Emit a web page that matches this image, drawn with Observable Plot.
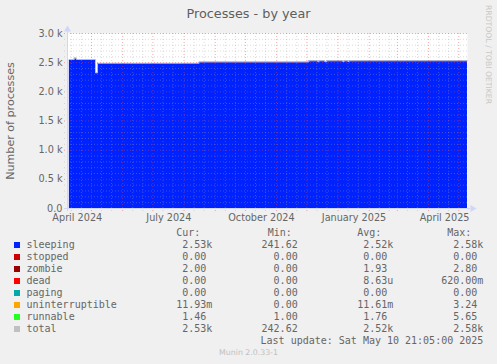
<!DOCTYPE html>
<html><head><meta charset="utf-8">
<script src="https://cdn.jsdelivr.net/npm/d3@7"></script>
<script src="https://cdn.jsdelivr.net/npm/@observablehq/plot@0.6"></script>
<style>
html,body{margin:0;padding:0;background:#f0f0f0;}
#wrap{position:relative;width:497px;height:364px;overflow:hidden;background:#f0f0f0;font-family:"DejaVu Sans",sans-serif;color:#666;}
#chart{position:absolute;left:0;top:0;}
#title{position:absolute;left:0;top:6.4px;width:497px;text-align:center;font-size:12.8px;line-height:15px;color:#5e5e5e;white-space:nowrap;}
#ylab{position:absolute;left:-89px;top:115px;width:200px;height:12px;text-align:center;font-size:11.1px;line-height:12px;transform:rotate(-90deg);white-space:nowrap;}
#wm{position:absolute;left:484px;top:5px;writing-mode:vertical-rl;font-size:7.7px;line-height:8px;color:#c8c8c8;white-space:nowrap;}
#legend{position:absolute;left:0;top:0;width:497px;height:364px;font-family:"DejaVu Sans Mono",monospace;font-size:10px;line-height:12px;color:#666;}
#legend div{position:absolute;white-space:pre;height:12px;}
#legend .sq{width:6px;height:6px;}
#munin{position:absolute;left:0;width:497px;top:347.5px;text-align:center;font-size:7.8px;line-height:10px;color:#c0c0c0;}
</style></head><body>
<div id="wrap">
  <div id="chart"></div>
  <div id="title"></div>
  <div id="ylab"></div>
  <div id="wm"></div>
  <div id="legend"></div>
  <div id="munin"></div>
</div>
<script>
// ---- data ----
const titleText = "Processes - by year";
const yLabelText = "Number of processes";
const watermark = "RRDTOOL / TOBI OETIKER";
const footer = "Munin 2.0.33-1";
const lastUpdate = "Last update:  Sat May 10 21:05:00 2025";

const dates = ["2024-04-09","2024-04-14","2024-04-16","2024-05-05","2024-05-07","2024-08-16","2024-12-03","2024-12-12","2024-12-13","2024-12-19","2024-12-21","2025-01-06","2025-01-07","2025-01-11","2025-01-12","2025-05-09T16:00Z"];
const sleeping = [2550,2575,2550,2320,2485,2507,2527,2510,2527,2512,2527,2512,2527,2515,2527,2527];
const total    = [2555,2580,2555,2325,2490,2512,2532,2515,2532,2517,2532,2517,2532,2520,2532,2532];

const xDomainDates = ["2024-04-07T04:00Z","2025-05-09T16:00Z"];
const yDomain = [0, 3000];
const yTicks = [0,500,1000,1500,2000,2500,3000];
const yTickLabels = ["0.0","0.5 k","1.0 k","1.5 k","2.0 k","2.5 k","3.0 k"];
const xTickDates = ["2024-04-01","2024-07-01","2024-10-01","2025-01-01","2025-04-01"];
const xTickLabels = ["April 2024","July 2024","October 2024","January 2025","April 2025"];

const seriesNames = ["sleeping","stopped","zombie","dead","paging","uninterruptible","runnable","total"];
const seriesColors = ["#0022ff","#cc0000","#990000","#ff0000","#00aaaa","#ffa500","#22ff22","#c0c0c0"];
const curVals = ["2.53k","0.00","2.00","0.00","0.00","11.93m","1.46","2.53k"];
const minVals = ["241.62","0.00","0.00","0.00","0.00","0.00","1.00","242.62"];
const avgVals = ["2.52k","0.00","1.93","8.63u","0.00","11.61m","1.76","2.52k"];
const maxVals = ["2.58k","0.00","2.80","620.00m","0.00","3.24","5.65","2.58k"];
const colHeaders = ["Cur:","Min:","Avg:","Max:"];

// ---- build ----
const rows = dates.map((d, i) => ({date: new Date(d.length > 10 ? d : d + "T00:00Z"), sleeping: sleeping[i], total: total[i]}));
const xDomain = xDomainDates.map(d => new Date(d));
const yLabelMap = new Map(yTicks.map((t, i) => [t, yTickLabels[i]]));
const xTicks = xTickDates.map(d => new Date(d + "T00:00Z"));
const xLabelMap = new Map(xTicks.map((t, i) => [+t, xTickLabels[i]]));

const yMinor = d3.range(100, 3001, 100).filter(v => v % 500 !== 0);
const yMajor = yTicks.filter(v => v > 0);
const xMajor = d3.utcMonth.range(xDomain[0], xDomain[1]);
const xMinor = d3.utcDay.range(xDomain[0], xDomain[1]).filter(d => d.getUTCDate() === 11 || d.getUTCDate() === 21);

const gridMinor = {stroke: "#a0a0a0", strokeOpacity: 0.38, strokeDasharray: "1,2"};
const gridMajor = {stroke: "#f04040", strokeOpacity: 0.45, strokeDasharray: "1,2"};
const axisColor = "#cfd6f8";

const chart = Plot.plot({
  width: 497, height: 230,
  marginLeft: 67, marginRight: 30, marginTop: 33, marginBottom: 22,
  style: {background: "transparent", fontFamily: "DejaVu Sans", fontSize: "9.7px", color: "#666", overflow: "visible"},
  x: {type: "utc", domain: xDomain},
  y: {domain: yDomain},
  marks: [
    Plot.frame({fill: "#ffffff", stroke: "none"}),
    Plot.areaY(rows, {x: "date", y: "sleeping", curve: "step-after", fill: "#0022ff"}),
    Plot.lineY(rows, {x: "date", y: "total", curve: "step-after", stroke: "#c0c0c0", strokeWidth: 1}),
    Plot.ruleY(yMinor, {...gridMinor, insetLeft: -3, insetRight: -2}),
    Plot.ruleX(xMinor, {...gridMinor, insetBottom: -3}),
    Plot.ruleY(yMajor, {...gridMajor, insetLeft: -3, insetRight: -2}),
    Plot.ruleX(xMajor, {...gridMajor, insetBottom: -3}),
    Plot.ruleY([yDomain[0]], {stroke: axisColor, insetLeft: -3, insetRight: -3}),
    Plot.ruleX([xDomain[0]], {stroke: axisColor, insetTop: -4, insetBottom: -3}),
    Plot.dot([{x: xDomain[1], y: yDomain[0]}], {x: "x", y: "y", symbol: "triangle", r: 2.6, rotate: 90, fill: axisColor, stroke: "none", dx: 5}),
    Plot.dot([{x: xDomain[0], y: yDomain[1]}], {x: "x", y: "y", symbol: "triangle", r: 2.6, fill: axisColor, stroke: "none", dy: -4}),
    Plot.axisY({ticks: yTicks, tickFormat: d => yLabelMap.get(d), tickSize: 0, tickPadding: 5, label: null}),
    Plot.axisX({ticks: xTicks, tickFormat: d => xLabelMap.get(+d), tickSize: 0, tickPadding: 6, dx: 16, label: null})
  ]
});
document.getElementById("chart").appendChild(chart);

document.getElementById("title").textContent = titleText;
document.getElementById("ylab").textContent = yLabelText;
document.getElementById("wm").textContent = watermark;
document.getElementById("munin").textContent = footer;

// legend
const leg = document.getElementById("legend");
const colRight = [212.3, 303.7, 393.3, 483.3];
const rowCenter0 = 245.5, rowStep = 12;
function cell(text, top, opts) {
  const el = document.createElement("div");
  el.textContent = text;
  el.style.top = top + "px";
  if (opts.left != null) el.style.left = opts.left + "px";
  if (opts.right != null) el.style.right = (497 - opts.right) + "px";
  leg.appendChild(el);
  return el;
}
const fmt = v => /[a-z]$/i.test(v) ? v : v + " ";
colHeaders.forEach((h, j) => cell(h, rowCenter0 - rowStep - 6.5, {left: colRight[j] - 36}));
seriesNames.forEach((name, i) => {
  const c = rowCenter0 + i * rowStep;
  const sq = document.createElement("div");
  sq.className = "sq";
  sq.style.left = "14px";
  sq.style.top = (c - 3.3) + "px";
  sq.style.background = seriesColors[i];
  leg.appendChild(sq);
  cell(name, c - 6.5, {left: 26.5});
  [curVals, minVals, avgVals, maxVals].forEach((arr, j) => cell(fmt(arr[i]), c - 6.5, {right: colRight[j]}));
});
cell(lastUpdate.replace("  ", " "), rowCenter0 + seriesNames.length * rowStep - 6.5, {right: colRight[3]});
</script>
</body></html>
